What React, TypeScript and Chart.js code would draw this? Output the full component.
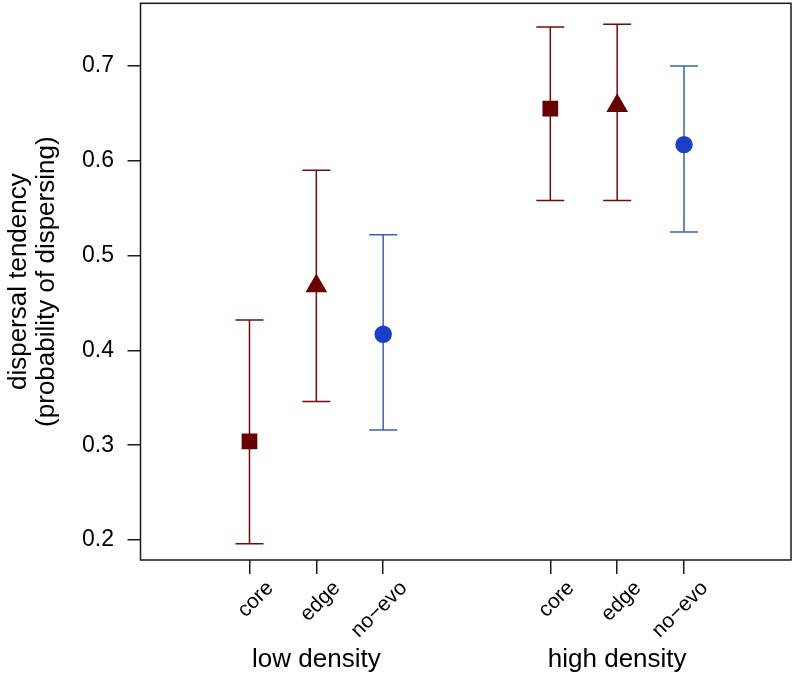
import React, { useEffect, useRef } from 'react';
import { Chart, registerables } from 'chart.js';

Chart.register(...registerables);

// ---- data ----
const groupLabels = ['low density', 'high density'];
const groupCenters = [2, 6.5];
const categories = ['core', 'edge', 'no\u2212evo', 'core', 'edge', 'no\u2212evo'];
const kinds = ['core', 'edge', 'noevo', 'core', 'edge', 'noevo'];
const positions = [1, 2, 3, 5.5, 6.5, 7.5];
const means = [0.304, 0.468, 0.417, 0.655, 0.658, 0.617];
const upper = [0.432, 0.59, 0.522, 0.741, 0.744, 0.7];
const lower = [0.196, 0.346, 0.316, 0.558, 0.558, 0.525];
const yTicks = [0.2, 0.3, 0.4, 0.5, 0.6, 0.7];
const yTitle = ['dispersal tendency', '(probability of dispersing)'];

// ---- styles ----
const FONT = '"Liberation Sans", Arial, Helvetica, sans-serif';
const FS_TITLE = 26;
const FS_Y = 23;
const FS_X = 21;
const AXIS = '#1a1a1a';
const styleOf: Record<string, { shape: string; radius: number; marker: string; bar: string }> = {
  core: { shape: 'rect', radius: 11.1, marker: '#690000', bar: '#700c0c' },
  edge: { shape: 'triangle', radius: 12.5, marker: '#690000', bar: '#700c0c' },
  noevo: { shape: 'circle', radius: 8.7, marker: '#1b3fc9', bar: '#3d5fbd' },
};

const errorBars = {
  id: 'errorBars',
  beforeDatasetsDraw(chart: any) {
    const { ctx, scales } = chart;
    const xs = scales.x;
    const ys = scales.y;
    ctx.save();
    ctx.lineWidth = 1.5;
    positions.forEach((p, i) => {
      const st = styleOf[kinds[i]];
      const x = xs.getPixelForValue(p);
      const yu = ys.getPixelForValue(upper[i]);
      const yl = ys.getPixelForValue(lower[i]);
      ctx.strokeStyle = st.bar;
      ctx.beginPath();
      ctx.moveTo(x, yu);
      ctx.lineTo(x, yl);
      ctx.moveTo(x - 14, yu);
      ctx.lineTo(x + 14, yu);
      ctx.moveTo(x - 14, yl);
      ctx.lineTo(x + 14, yl);
      ctx.stroke();
    });
    ctx.restore();
  },
};

const boxAndGroups = {
  id: 'boxAndGroups',
  afterDraw(chart: any) {
    const { ctx, chartArea, scales } = chart;
    ctx.save();
    ctx.strokeStyle = AXIS;
    ctx.lineWidth = 1.5;
    ctx.strokeRect(chartArea.left, chartArea.top, chartArea.right - chartArea.left, chartArea.bottom - chartArea.top);
    ctx.fillStyle = '#000';
    ctx.font = `${FS_TITLE}px ${FONT}`;
    ctx.textAlign = 'center';
    ctx.textBaseline = 'alphabetic';
    groupLabels.forEach((g, i) => {
      ctx.fillText(g, scales.x.getPixelForValue(groupCenters[i]), chartArea.bottom + 107);
    });
    ctx.restore();
  },
};

export default function App() {
  const ref = useRef<HTMLCanvasElement | null>(null);
  useEffect(() => {
    if (!ref.current) return;
    const data = positions.map((p, i) => ({ x: p, y: means[i] }));
    const chart = new Chart(ref.current, {
      type: 'scatter',
      data: {
        datasets: [
          {
            data,
            pointStyle: ((c: any) => styleOf[kinds[c.dataIndex]]?.shape) as any,
            pointRadius: ((c: any) => styleOf[kinds[c.dataIndex]]?.radius) as any,
            pointHoverRadius: ((c: any) => styleOf[kinds[c.dataIndex]]?.radius) as any,
            pointBackgroundColor: ((c: any) => styleOf[kinds[c.dataIndex]]?.marker) as any,
            pointBorderColor: ((c: any) => styleOf[kinds[c.dataIndex]]?.marker) as any,
            pointBorderWidth: 0,
            showLine: false,
          },
        ],
      },
      options: {
        responsive: false,
        animation: false,
        events: [],
        layout: { autoPadding: false, padding: { top: 3.3, right: 2, left: 0, bottom: 0 } },
        plugins: { legend: { display: false }, tooltip: { enabled: false } },
        scales: {
          x: {
            type: 'linear',
            min: -0.63,
            max: 9.1,
            afterBuildTicks: (s: any) => {
              s.ticks = positions.map((v) => ({ value: v }));
            },
            afterFit: (s: any) => {
              s.height = 116;
              s.paddingLeft = 0;
              s.paddingRight = 0;
            },
            border: { display: false },
            grid: {
              display: true,
              drawOnChartArea: false,
              drawTicks: true,
              tickLength: 14,
              color: AXIS,
              lineWidth: 1.5,
            },
            ticks: {
              autoSkip: false,
              minRotation: 45,
              maxRotation: 45,
              padding: 2,
              labelOffset: 20.7,
              color: '#000',
              font: { family: FONT, size: FS_X },
              callback: (_v: any, i: number) => categories[i],
            },
          },
          y: {
            type: 'linear',
            min: 0.1789,
            max: 0.7661,
            afterBuildTicks: (s: any) => {
              s.ticks = yTicks.map((v) => ({ value: v }));
            },
            afterFit: (s: any) => {
              s.width = 140.5;
              s.paddingTop = 0;
              s.paddingBottom = 0;
            },
            border: { display: false },
            grid: {
              display: true,
              drawOnChartArea: false,
              drawTicks: true,
              tickLength: 13,
              color: AXIS,
              lineWidth: 1.5,
            },
            ticks: {
              padding: 13.5,
              color: '#000',
              font: { family: FONT, size: FS_Y },
              callback: (v: any) => Number(v).toFixed(1),
            },
            title: {
              display: true,
              text: yTitle,
              color: '#000',
              font: { family: FONT, size: FS_TITLE, lineHeight: 1.09 },
              padding: { top: 4.2, bottom: 0 },
            },
          },
        },
      },
      plugins: [errorBars, boxAndGroups],
    });
    return () => chart.destroy();
  }, []);
  return (
    <div style={{ position: 'absolute', left: 0, top: 0, width: 793, height: 676, background: '#fff' }}>
      <canvas ref={ref} width={793} height={676} style={{ width: 793, height: 676 }} />
    </div>
  );
}
